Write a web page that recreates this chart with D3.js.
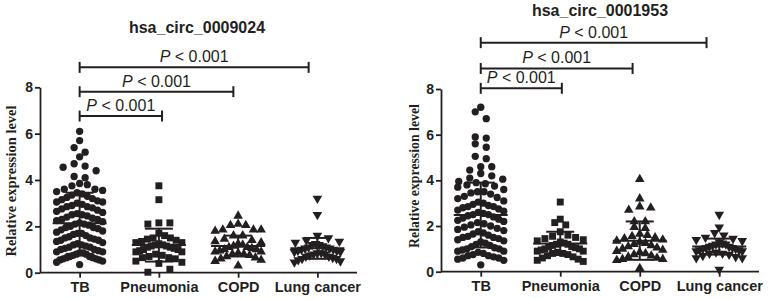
<!DOCTYPE html>
<html>
<head>
<meta charset="utf-8">
<script src="https://cdn.jsdelivr.net/npm/d3@7"></script>
<style>
  body { margin: 0; background: #fff; }
  svg { display: block; }
  text { fill: #231f20; }
</style>
</head>
<body>
<svg id="chart" width="772" height="299"></svg>
<script>
var categories = ["TB", "Pneumonia", "COPD", "Lung cancer"];
var titles = ["hsa_circ_0009024", "hsa_circ_0001953"];
var yTicks = [0, 2, 4, 6, 8];

// hsa_circ_0009024
var tb1 = [6.1, 5.7, 5.4, 5.2, 5.0, 4.7, 4.6, 4.55, 4.4, 4.15, 4.1, 3.85, 3.8, 3.75, 3.6, 3.6, 3.55, 3.5, 3.45, 3.4, 3.35, 3.3, 3.25, 3.2, 3.15, 3.1, 3.05, 3.05, 3.0, 2.95, 2.9, 2.85, 2.85, 2.8, 2.75, 2.7, 2.65, 2.6, 2.55, 2.5, 2.5, 2.45, 2.4, 2.35, 2.3, 2.3, 2.25, 2.2, 2.15, 2.1, 2.1, 2.05, 2.0, 1.95, 1.95, 1.9, 1.85, 1.8, 1.75, 1.7, 1.7, 1.65, 1.6, 1.55, 1.5, 1.5, 1.45, 1.4, 1.4, 1.35, 1.3, 1.25, 1.2, 1.2, 1.15, 1.1, 1.1, 1.05, 1.0, 1.0, 0.95, 0.9, 0.9, 0.85, 0.85, 0.8, 0.8, 0.75, 0.7, 0.7, 0.65, 0.65, 0.6, 0.6, 0.55, 0.55, 0.5, 0.45, 0.35];
var pn1 = [3.75, 3.15, 2.15, 2.15, 2.1, 1.7, 1.6, 1.5, 1.5, 1.45, 1.4, 1.35, 1.3, 1.3, 1.25, 1.2, 1.2, 1.15, 1.15, 1.1, 1.1, 1.05, 1.0, 1.0, 0.95, 0.9, 0.9, 0.8, 0.75, 0.7, 0.65, 0.65, 0.6, 0.5, 0.45, 0.4, 0.15, 0.02];
var copd1 = [2.45, 2.1, 2.05, 2.05, 1.85, 1.85, 1.85, 1.8, 1.6, 1.6, 1.45, 1.4, 1.35, 1.3, 1.25, 1.2, 1.15, 1.1, 1.1, 1.05, 1.0, 1.0, 0.95, 0.9, 0.9, 0.85, 0.8, 0.8, 0.75, 0.7, 0.65, 0.6, 0.55, 0.5, 0.3];
var lc1 = [3.2, 2.5, 1.6, 1.5, 1.4, 1.35, 1.3, 1.25, 1.2, 1.2, 1.15, 1.1, 1.1, 1.05, 1.05, 1.0, 1.0, 0.95, 0.95, 0.9, 0.9, 0.85, 0.85, 0.8, 0.8, 0.75, 0.7, 0.7, 0.65, 0.6, 0.6, 0.55, 0.5, 0.45];
var means1 = [2.13, 1.19, 1.15, 1.05];
var sds1 = [1.32, 0.71, 0.45, 0.45];
var brLevels1 = [6.76, 7.81, 8.86];
var brEnds1 = [1.04, 1.94, 2.89];

// hsa_circ_0001953
var tb2 = [7.2, 7.0, 6.7, 5.9, 5.85, 5.6, 5.45, 5.05, 4.95, 4.6, 4.6, 4.45, 4.3, 4.2, 4.1, 4.05, 3.95, 3.9, 3.85, 3.8, 3.75, 3.7, 3.6, 3.5, 3.5, 3.45, 3.4, 3.3, 3.25, 3.2, 3.1, 3.05, 3.0, 2.95, 2.9, 2.85, 2.85, 2.8, 2.75, 2.7, 2.65, 2.6, 2.55, 2.5, 2.5, 2.45, 2.4, 2.35, 2.3, 2.25, 2.2, 2.15, 2.1, 2.05, 2.0, 1.95, 1.9, 1.85, 1.8, 1.75, 1.7, 1.65, 1.6, 1.55, 1.5, 1.5, 1.45, 1.4, 1.35, 1.3, 1.25, 1.2, 1.15, 1.1, 1.05, 1.0, 1.0, 0.95, 0.9, 0.9, 0.85, 0.8, 0.75, 0.7, 0.7, 0.65, 0.6, 0.6, 0.55, 0.5, 0.3];
var pn2 = [3.05, 2.3, 2.15, 2.05, 1.75, 1.6, 1.55, 1.5, 1.45, 1.4, 1.35, 1.3, 1.25, 1.2, 1.2, 1.15, 1.1, 1.1, 1.05, 1.0, 1.0, 0.95, 0.9, 0.9, 0.85, 0.8, 0.8, 0.75, 0.7, 0.65, 0.6, 0.55, 0.5, 0.45];
var copd2 = [4.05, 3.2, 2.85, 2.8, 2.7, 2.2, 2.2, 1.95, 1.9, 1.65, 1.6, 1.55, 1.5, 1.45, 1.4, 1.35, 1.3, 1.25, 1.2, 1.15, 1.1, 1.05, 1.0, 0.95, 0.9, 0.85, 0.8, 0.75, 0.7, 0.65, 0.6, 0.55, 0.55, 0.5, 0.15];
var lc2 = [2.5, 1.95, 1.7, 1.6, 1.5, 1.45, 1.4, 1.35, 1.3, 1.25, 1.2, 1.2, 1.15, 1.1, 1.1, 1.05, 1.05, 1.0, 1.0, 0.95, 0.95, 0.9, 0.9, 0.85, 0.8, 0.8, 0.75, 0.7, 0.65, 0.6, 0.6, 0.1];
var means2 = [2.48, 1.24, 1.36, 1.1];
var sds2 = [1.42, 0.51, 0.84, 0.35];
var brLevels2 = [8.03, 8.9, 10.03];
var brEnds2 = [1.02, 1.91, 2.84];

var ink = "#231f20";
var symbols = [d3.symbolCircle, d3.symbolSquare, d3.symbolTriangle, d3.symbolTriangle];
var symSize = [42, 48, 40, 40];
var symRot = [0, 0, 0, 180];

var panels = [
    { title: titles[0], groups: [tb1, pn1, copd1, lc1], means: means1, sds: sds1, levels: brLevels1, ends: brEnds1,
      x0: 40, x1: 357, yBase: 272.7, yTop: 87.3, titleX: 197, titleY: 33, labelX: 11, labelY: 181, labelSize: 14.5, pGap: 5 },
    { title: titles[1], groups: [tb2, pn2, copd2, lc2], means: means2, sds: sds2, levels: brLevels2, ends: brEnds2,
      x0: 441, x1: 759, yBase: 271.7, yTop: 89, titleX: 600, titleY: 16, labelX: 414, labelY: 176, labelSize: 13.8, pGap: 5 }
];

var svg = d3.select("#chart");

// Prism-style scatter: points binned in rows; inside a row the highest sits in the
// middle and the rest step outwards, squeezed when the row gets crowded
function scatterRows(values, y, cx, binH, gap, maxW) {
    var rows = d3.groups(values, function(v) { return Math.floor((y(0) - y(v)) / binH); });
    var out = [];
    rows.forEach(function(r) {
        var vs = r[1].slice().sort(function(a, b) { return b - a; });
        var n = vs.length;
        var s = n > 1 ? Math.min(gap, 2 * maxW / (n - 1)) : 0;
        var shift = n % 2 ? 0 : -s / 2;   // even rows are centred between two slots
        vs.forEach(function(v, k) {
            var step = k === 0 ? 0 : Math.ceil(k / 2) * (k % 2 ? 1 : -1);
            out.push({ x: cx + step * s + shift, y: y(v) });
        });
    });
    return out;
}

panels.forEach(function(p) {
    var g = svg.append("g");

    var x = d3.scalePoint().domain(categories).range([p.x0, p.x1]).padding(0.5);
    var y = d3.scaleLinear().domain([0, 8]).range([p.yBase, p.yTop]);

    // axes
    var yAxis = g.append("g")
        .attr("transform", "translate(" + p.x0 + ",0)")
        .call(d3.axisLeft(y).tickValues(yTicks).tickSize(5).tickPadding(2).tickSizeOuter(0));
    var xAxis = g.append("g")
        .attr("transform", "translate(0," + p.yBase + ")")
        .call(d3.axisBottom(x).tickSize(5).tickPadding(4).tickSizeOuter(0));
    xAxis.select(".domain").attr("d", "M" + p.x0 + ",0H" + p.x1);

    [yAxis, xAxis].forEach(function(a) {
        a.selectAll(".domain, line").attr("stroke", ink).attr("stroke-width", 1.8);
        a.selectAll("text").attr("fill", ink)
            .style("font-family", "'Liberation Sans', Arial, sans-serif")
            .style("font-weight", "bold");
    });
    yAxis.selectAll("text").style("font-size", "14px");
    xAxis.selectAll("text").style("font-size", "14.5px");

    // y label
    g.append("text")
        .attr("transform", "translate(" + p.labelX + "," + p.labelY + ") rotate(-90)")
        .attr("text-anchor", "middle")
        .attr("dy", "0.35em")
        .style("font-family", "'Liberation Serif', 'Times New Roman', serif")
        .style("font-weight", "bold")
        .style("font-size", p.labelSize + "px")
        .text("Relative expression level");

    // title
    g.append("text")
        .attr("x", p.titleX).attr("y", p.titleY)
        .attr("text-anchor", "middle")
        .style("font-family", "'Liberation Sans', Arial, sans-serif")
        .style("font-weight", "bold")
        .style("font-size", "16px")
        .text(p.title);

    // points
    p.groups.forEach(function(vals, i) {
        var pts = scatterRows(vals, y, x(categories[i]), 10, 11, 23);
        var sym = d3.symbol().type(symbols[i]).size(symSize[i]);
        g.selectAll(".pt" + i)
            .data(pts)
            .enter()
            .append("path")
            .attr("d", sym)
            .attr("fill", ink)
            .attr("transform", function(d) {
                return "translate(" + d.x + "," + d.y + ") rotate(" + symRot[i] + ")";
            });
    });

    // mean +- SD
    categories.forEach(function(c, i) {
        var cx = x(c), m = p.means[i], s = p.sds[i];
        var mg = g.append("g").attr("stroke", ink).attr("stroke-width", 2);
        mg.append("line").attr("x1", cx - 27).attr("x2", cx + 27).attr("y1", y(m)).attr("y2", y(m));
        mg.append("line").attr("x1", cx).attr("x2", cx).attr("y1", y(m - s)).attr("y2", y(m + s));
        mg.append("line").attr("x1", cx - 14).attr("x2", cx + 14).attr("y1", y(m + s)).attr("y2", y(m + s));
        mg.append("line").attr("x1", cx - 14).attr("x2", cx + 14).attr("y1", y(m - s)).attr("y2", y(m - s));
    });

    // significance brackets
    var xs = x(categories[0]);
    p.levels.forEach(function(lv, i) {
        var xe = xs + p.ends[i] * x.step();
        var by = y(lv);
        var bg = g.append("g").attr("stroke", ink).attr("stroke-width", 2).attr("fill", "none");
        bg.append("line").attr("x1", xs).attr("x2", xe).attr("y1", by).attr("y2", by);
        bg.append("line").attr("x1", xs).attr("x2", xs).attr("y1", by - 5.5).attr("y2", by + 5.5);
        bg.append("line").attr("x1", xe).attr("x2", xe).attr("y1", by - 5.5).attr("y2", by + 5.5);

        var t = g.append("text")
            .attr("x", (xs + xe) / 2).attr("y", by - p.pGap)
            .attr("text-anchor", "middle")
            .style("font-family", "'Liberation Sans', Arial, sans-serif")
            .style("font-size", "16px");
        t.append("tspan").style("font-style", "italic").text("P");
        t.append("tspan").text(" < 0.001");
    });
});
</script>
</body>
</html>
